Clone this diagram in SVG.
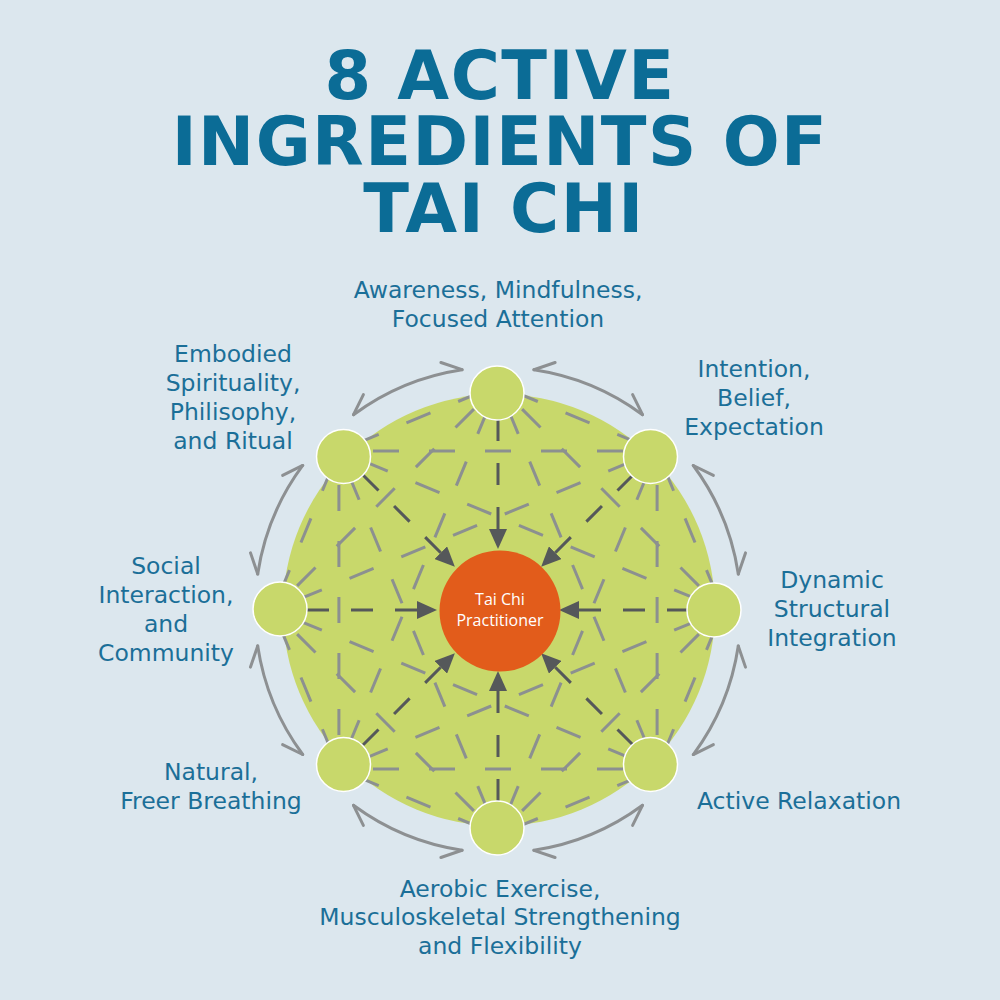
<svg xmlns="http://www.w3.org/2000/svg" xmlns:xlink="http://www.w3.org/1999/xlink" width="1000" height="1000" viewBox="0 0 1000 1000">
<style>
.title{font-family:"DejaVu Sans","Verdana",sans-serif;font-weight:bold;font-size:67px;fill:#0b6c96;text-anchor:middle;letter-spacing:1.5px}
.lbl{font-family:"DejaVu Sans","Verdana",sans-serif;font-size:23.5px;fill:#1b6f98;text-anchor:middle}
.ctr{font-family:"Open Sans","Noto Sans",sans-serif;font-size:16px;fill:#ffffff;text-anchor:middle}
.chord{fill:none;stroke:#8c9090;stroke-width:3;stroke-dasharray:26 30;stroke-dashoffset:13}
.spoke{fill:none;stroke:#55585a;stroke-width:3;stroke-dasharray:22 22;marker-start:url(#ah)}
.cyc{fill:none;stroke:#8d9092;stroke-width:3;stroke-linecap:round;stroke-linejoin:round}
.node{fill:#c8d86b;stroke:#ffffff;stroke-width:1.5}
</style>
<defs>
<marker id="ah" markerUnits="userSpaceOnUse" markerWidth="20" markerHeight="18" viewBox="0 0 20 18" refX="0" refY="9" orient="auto-start-reverse">
<path d="M0 0 L20 9 L0 18 Z" fill="#55585a"/>
</marker>
<path id="c1" class="chord" d="M79.55 -192.05 L0 -225 M79.55 -192.05 L159.1 -159.1"/>
<path id="c2" class="chord" d="M112.5 -112.5 L0 -225 M112.5 -112.5 L225 0"/>
<path id="c3" class="chord" d="M79.55 -32.95 L0 -225 M79.55 -32.95 L159.1 159.1"/>
<path id="sp" class="spoke" d="M0 -81 L0 -192"/>
<g id="cy">
<path class="cyc" d="M-144.5 -195.3 A243 243 0 0 1 -35.9 -240.3"/>
<path class="cyc" d="M-144.5 -195.3 L-134.6 -215.4"/>
<path class="cyc" d="M-35.9 -240.3 L-57.1 -247.5"/>
</g>
</defs>
<rect x="0" y="0" width="1000" height="1000" fill="#dce7ee"/>
<g id="title">
<text class="title" x="500" y="99">8 ACTIVE</text>
<text class="title" x="500" y="165">INGREDIENTS OF</text>
<text class="title" x="504" y="232">TAI CHI</text>
</g>
<circle id="field" cx="499" cy="610" r="216" fill="#c8d86b"/>
<g id="connectors" transform="translate(498 610)">
<g id="mesh">
<use xlink:href="#c1"/><use xlink:href="#c1" transform="rotate(45)"/><use xlink:href="#c1" transform="rotate(90)"/><use xlink:href="#c1" transform="rotate(135)"/><use xlink:href="#c1" transform="rotate(180)"/><use xlink:href="#c1" transform="rotate(225)"/><use xlink:href="#c1" transform="rotate(270)"/><use xlink:href="#c1" transform="rotate(315)"/>
<use xlink:href="#c2"/><use xlink:href="#c2" transform="rotate(45)"/><use xlink:href="#c2" transform="rotate(90)"/><use xlink:href="#c2" transform="rotate(135)"/><use xlink:href="#c2" transform="rotate(180)"/><use xlink:href="#c2" transform="rotate(225)"/><use xlink:href="#c2" transform="rotate(270)"/><use xlink:href="#c2" transform="rotate(315)"/>
<use xlink:href="#c3"/><use xlink:href="#c3" transform="rotate(45)"/><use xlink:href="#c3" transform="rotate(90)"/><use xlink:href="#c3" transform="rotate(135)"/><use xlink:href="#c3" transform="rotate(180)"/><use xlink:href="#c3" transform="rotate(225)"/><use xlink:href="#c3" transform="rotate(270)"/><use xlink:href="#c3" transform="rotate(315)"/>
</g>
<g id="spokes">
<use xlink:href="#sp"/><use xlink:href="#sp" transform="rotate(45)"/><use xlink:href="#sp" transform="rotate(90)"/><use xlink:href="#sp" transform="rotate(135)"/><use xlink:href="#sp" transform="rotate(180)"/><use xlink:href="#sp" transform="rotate(225)"/><use xlink:href="#sp" transform="rotate(270)"/><use xlink:href="#sp" transform="rotate(315)"/>
</g>
<g id="cycle">
<use xlink:href="#cy"/><use xlink:href="#cy" transform="rotate(45)"/><use xlink:href="#cy" transform="rotate(90)"/><use xlink:href="#cy" transform="rotate(135)"/><use xlink:href="#cy" transform="rotate(180)"/><use xlink:href="#cy" transform="rotate(225)"/><use xlink:href="#cy" transform="rotate(270)"/><use xlink:href="#cy" transform="rotate(315)"/>
</g>
</g>
<g id="n-awareness"><circle class="node" cx="497" cy="393" r="27"/>
<text class="lbl" x="498" y="298">Awareness, Mindfulness,</text>
<text class="lbl" x="498" y="327">Focused Attention</text></g>
<g id="n-intention"><circle class="node" cx="650.5" cy="456.5" r="27"/>
<text class="lbl" x="754" y="377">Intention,</text>
<text class="lbl" x="754" y="406">Belief,</text>
<text class="lbl" x="754" y="435">Expectation</text></g>
<g id="n-dynamic"><circle class="node" cx="714" cy="610" r="27"/>
<text class="lbl" x="832" y="588">Dynamic</text>
<text class="lbl" x="832" y="617">Structural</text>
<text class="lbl" x="832" y="646">Integration</text></g>
<g id="n-relaxation"><circle class="node" cx="650.5" cy="764.5" r="27"/>
<text class="lbl" x="799" y="809">Active Relaxation</text></g>
<g id="n-aerobic"><circle class="node" cx="497" cy="828" r="27"/>
<text class="lbl" x="500" y="897">Aerobic Exercise,</text>
<text class="lbl" x="500" y="925">Musculoskeletal Strengthening</text>
<text class="lbl" x="500" y="954">and Flexibility</text></g>
<g id="n-breathing"><circle class="node" cx="343.5" cy="764.5" r="27"/>
<text class="lbl" x="211" y="780">Natural,</text>
<text class="lbl" x="211" y="809">Freer Breathing</text></g>
<g id="n-social"><circle class="node" cx="280" cy="609" r="27"/>
<text class="lbl" x="166" y="574">Social</text>
<text class="lbl" x="166" y="603">Interaction,</text>
<text class="lbl" x="166" y="632">and</text>
<text class="lbl" x="166" y="661">Community</text></g>
<g id="n-spirituality"><circle class="node" cx="343.5" cy="456.5" r="27"/>
<text class="lbl" x="233" y="362">Embodied</text>
<text class="lbl" x="233" y="391">Spirituality,</text>
<text class="lbl" x="233" y="420">Philisophy,</text>
<text class="lbl" x="233" y="449">and Ritual</text></g>
<g id="n-center"><circle cx="500" cy="611" r="60.5" fill="#e25c1b"/>
<text class="ctr" x="500" y="605">Tai Chi</text>
<text class="ctr" x="500" y="626">Practitioner</text></g>
</svg>
